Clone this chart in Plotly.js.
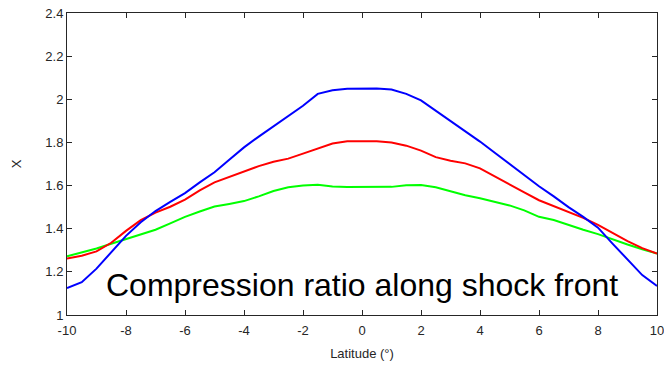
<!DOCTYPE html>
<html>
<head>
<meta charset="utf-8">
<script src="https://cdn.plot.ly/plotly-3.0.1.min.js"></script>
<style>html,body{margin:0;padding:0;background:#fff;}#chart{width:664px;height:365px;}</style>
</head>
<body>
<div id="chart"></div>
<script>
const latitude = [-10,-9.5,-9,-8.5,-8,-7.5,-7,-6.5,-6,-5.5,-5,-4.5,-4,-3.5,-3,-2.5,-2,-1.5,-1,-0.5,0,0.5,1,1.5,2,2.5,3,3.5,4,4.5,5,5.5,6,6.5,7,7.5,8,8.5,9,9.5,10];
const blueSeries = [1.125,1.152,1.215,1.29,1.367,1.43,1.482,1.524,1.565,1.615,1.662,1.72,1.777,1.827,1.875,1.922,1.97,2.025,2.042,2.049,2.05,2.05,2.045,2.025,1.995,1.948,1.9,1.852,1.804,1.752,1.70,1.645,1.597,1.55,1.50,1.455,1.405,1.33,1.255,1.185,1.135];
const redSeries = [1.262,1.275,1.295,1.335,1.39,1.44,1.475,1.502,1.535,1.578,1.615,1.64,1.668,1.69,1.71,1.725,1.748,1.772,1.795,1.805,1.807,1.806,1.80,1.785,1.762,1.732,1.715,1.703,1.68,1.642,1.605,1.568,1.532,1.505,1.478,1.45,1.418,1.378,1.342,1.31,1.285];
const greenSeries = [1.272,1.29,1.308,1.33,1.352,1.372,1.395,1.425,1.455,1.48,1.503,1.515,1.528,1.55,1.575,1.592,1.6,1.604,1.596,1.593,1.593,1.593,1.594,1.602,1.603,1.592,1.573,1.555,1.541,1.525,1.508,1.485,1.455,1.44,1.416,1.395,1.375,1.35,1.327,1.305,1.285];
const xTicks = [-10,-8,-6,-4,-2,0,2,4,6,8,10];
const yTicks = [1,1.2,1.4,1.6,1.8,2,2.2,2.4];
const annotationText = "Compression ratio along shock front";

const mk = (y, c) => ({x: latitude, y: y, type: 'scatter', mode: 'lines', line: {color: c, width: 2}, hoverinfo: 'skip', showlegend: false});
const data = [mk(greenSeries, '#00ff00'), mk(redSeries, '#ff0000'), mk(blueSeries, '#0000ff')];

const fontFam = 'Liberation Sans, Arial, sans-serif';
const axisCommon = {
  showgrid: false, zeroline: false, showline: true, linecolor: '#262626', linewidth: 1,
  mirror: 'allticks', ticks: 'inside', ticklen: 5, tickcolor: '#262626', tickwidth: 1,
  ticklabeloverflow: 'allow', automargin: false,
  tickfont: {family: fontFam, size: 13, color: '#262626'}
};

const layout = {
  width: 664, height: 365,
  margin: {l: 67, r: 7, t: 13, b: 50},
  paper_bgcolor: '#fff', plot_bgcolor: '#fff',
  xaxis: Object.assign({}, axisCommon, {range: [-10, 10], tickvals: xTicks, ticktext: xTicks.map(String), ticklabelstandoff: 3,
    title: {text: 'Latitude (°)', font: {family: fontFam, size: 13, color: '#262626'}, standoff: 12}}),
  yaxis: Object.assign({}, axisCommon, {range: [1, 2.4], tickvals: yTicks, ticktext: yTicks.map(String),
    title: {text: 'X', font: {family: fontFam, size: 13, color: '#262626'}, standoff: 20}}),
  annotations: [{
    text: annotationText, xref: 'x', yref: 'y', x: 0, y: 1.14, showarrow: false,
    font: {family: fontFam, size: 32, color: '#000'}
  }]
};

Plotly.newPlot('chart', data, layout, {displayModeBar: false, staticPlot: true});
</script>
</body>
</html>
